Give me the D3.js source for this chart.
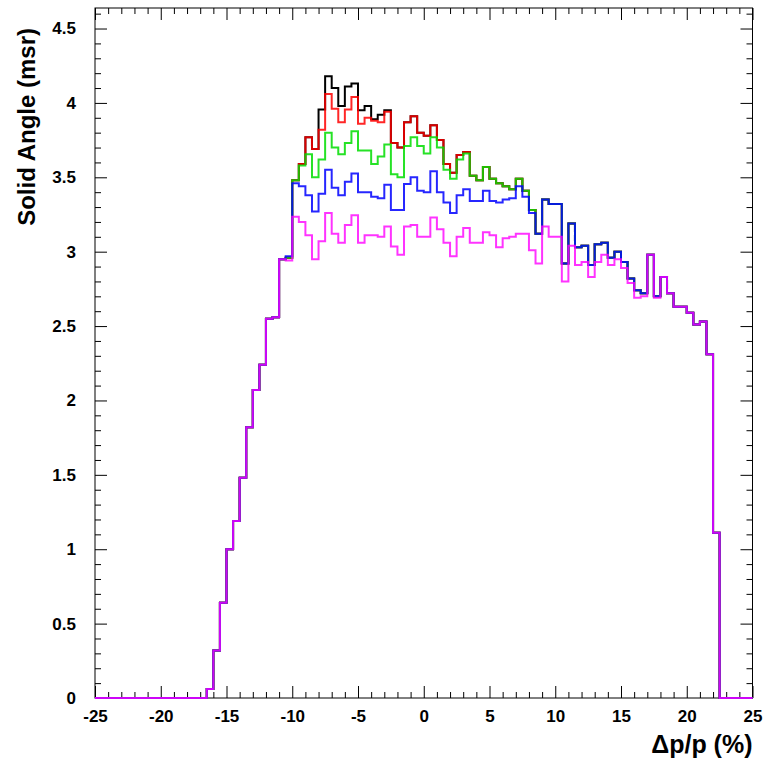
<!DOCTYPE html>
<html><head><meta charset="utf-8">
<script src="https://cdn.jsdelivr.net/npm/d3@7"></script>
<style>body{margin:0;background:#fff}</style>
</head><body><svg id="c" width="764" height="762"></svg>
<script>
// Histogram bins: 100 bins of width 0.5 from -25 to 25
const binStart = -25, binWidth = 0.5;
const seriesBlack = [0,0,0,0,0,0,0,0,0,0,0,0,0,0,0,0,0,
 0.06,0.32,0.64,1.00,1.19,1.48,1.82,2.07,2.24,2.55,2.56,2.95,2.96,
 3.48,3.59,3.77,3.69,3.955,4.18,4.10,3.98,4.11,4.13,3.95,3.98,3.89,3.92,3.95,3.73,3.70,3.87,3.91,3.80,
 3.78,3.85,3.75,3.59,3.53,3.65,3.67,3.51,3.48,3.57,3.49,3.46,3.44,3.42,3.49,3.41,3.28,
 3.12,3.35,3.32,3.32,2.92,3.19,3.03,3.04,2.91,3.05,3.06,2.96,3.00,2.93,2.82,2.74,2.72,2.98,2.70,2.83,2.72,2.63,2.63,2.59,2.51,2.53,2.31,1.11,
 0,0,0,0,0];
const seriesRed = [0,0,0,0,0,0,0,0,0,0,0,0,0,0,0,0,0,
 0.06,0.32,0.64,1.00,1.19,1.48,1.82,2.07,2.24,2.55,2.56,2.95,2.96,
 3.48,3.59,3.77,3.69,3.82,4.06,3.96,3.87,3.955,4.04,3.86,3.90,3.88,3.87,3.94,3.73,3.70,3.87,3.91,3.80,
 3.78,3.85,3.75,3.59,3.53,3.65,3.67,3.51,3.48,3.57,3.49,3.46,3.44,3.42,3.49,3.41,3.28,
 3.12,3.35,3.32,3.32,2.92,3.19,3.03,3.04,2.91,3.05,3.06,2.96,3.00,2.93,2.82,2.74,2.72,2.98,2.70,2.83,2.72,2.63,2.63,2.59,2.51,2.53,2.31,1.11,
 0,0,0,0,0];
const seriesGreen = [0,0,0,0,0,0,0,0,0,0,0,0,0,0,0,0,0,
 0.06,0.32,0.64,1.00,1.19,1.48,1.82,2.07,2.24,2.55,2.56,2.95,2.96,
 3.48,3.58,3.655,3.50,3.62,3.80,3.70,3.655,3.73,3.81,3.68,3.68,3.59,3.64,3.72,3.52,3.50,3.71,3.77,3.71,
 3.66,3.77,3.70,3.55,3.49,3.62,3.66,3.51,3.48,3.57,3.49,3.46,3.44,3.42,3.49,3.41,3.28,
 3.12,3.35,3.32,3.32,2.92,3.19,3.03,3.04,2.91,3.05,3.06,2.96,3.00,2.93,2.82,2.74,2.72,2.98,2.70,2.83,2.72,2.63,2.63,2.59,2.51,2.53,2.31,1.11,
 0,0,0,0,0];
const seriesBlue = [0,0,0,0,0,0,0,0,0,0,0,0,0,0,0,0,0,
 0.06,0.32,0.64,1.00,1.19,1.48,1.82,2.07,2.24,2.55,2.56,2.95,2.97,
 3.46,3.44,3.38,3.27,3.39,3.55,3.43,3.38,3.47,3.525,3.40,3.40,3.37,3.36,3.45,3.28,3.28,3.455,3.50,3.41,
 3.40,3.54,3.40,3.33,3.26,3.38,3.42,3.34,3.34,3.41,3.34,3.33,3.35,3.36,3.44,3.37,3.26,
 3.12,3.35,3.32,3.32,2.92,3.19,3.03,3.04,2.91,3.05,3.06,2.96,3.00,2.93,2.82,2.74,2.72,2.98,2.70,2.83,2.72,2.63,2.63,2.59,2.51,2.53,2.31,1.11,
 0,0,0,0,0];
const seriesMagenta = [0,0,0,0,0,0,0,0,0,0,0,0,0,0,0,0,0,
 0.06,0.32,0.64,1.00,1.19,1.48,1.82,2.07,2.24,2.55,2.56,2.95,2.94,
 3.235,3.20,3.11,2.95,3.07,3.26,3.12,3.06,3.18,3.245,3.06,3.11,3.11,3.10,3.17,3.035,2.98,3.17,3.18,3.10,
 3.10,3.23,3.15,3.06,2.97,3.10,3.16,3.06,3.06,3.13,3.11,3.03,3.09,3.10,3.12,3.12,3.01,
 2.92,3.17,3.10,3.10,2.80,3.04,2.91,2.93,2.83,2.93,2.98,2.91,2.95,2.89,2.79,2.69,2.70,2.98,2.69,2.83,2.72,2.63,2.63,2.59,2.51,2.53,2.31,1.11,
 0,0,0,0,0];
const seriesColors = ["#000000","#ff0000","#00dd00","#0000ff","#ff00ff"];
const seriesOpacity = [1, 0.85, 0.85, 0.85, 0.8];
const xMajor = [-25,-20,-15,-10,-5,0,5,10,15,20,25];
const xLabels = ["-25","-20","-15","-10","-5","0","5","10","15","20","25"];
const yMajor = [0,0.5,1,1.5,2,2.5,3,3.5,4,4.5];
const yLabels = ["0","0.5","1","1.5","2","2.5","3","3.5","4","4.5"];
const xTitle = "\u0394p/p (%)";
const yTitle = "Solid Angle (msr)";

const allSeries = [seriesBlack, seriesRed, seriesGreen, seriesBlue, seriesMagenta];

const L = 95, R = 752.5, T = 8, B = 698;
const x = d3.scaleLinear().domain([-25, 25]).range([L, R]);
const y = d3.scaleLinear().domain([0, 4.638]).range([B, T]);

const svg = d3.select("#c");
const font = "'Liberation Sans', Arial, Helvetica, sans-serif";

// minor ticks
const xMinor = d3.range(-25, 25.001, 1).filter(v => Math.abs(v % 5) > 1e-6);
const yMinor = d3.range(0, 4.6001, 0.1).map(v => +v.toFixed(1)).filter(v => Math.abs((v * 2) - Math.round(v * 2)) > 1e-6);

function styleAxis(g) {
  g.select(".domain").remove();
  g.selectAll(".tick line").attr("stroke", "#000").attr("stroke-width", 1);
  g.selectAll(".tick text").attr("font-family", font).attr("font-weight", "bold").attr("font-size", 17).attr("fill", "#000");
}

// bottom
svg.append("g").attr("transform", `translate(0,${B})`)
  .call(d3.axisBottom(x).tickValues(xMajor).tickSize(-12).tickPadding(12).tickFormat((d, i) => xLabels[i]))
  .call(styleAxis);
svg.append("g").attr("transform", `translate(0,${B})`)
  .call(d3.axisBottom(x).tickValues(xMinor).tickSize(-6).tickFormat(""))
  .call(styleAxis);
// top
svg.append("g").attr("transform", `translate(0,${T})`)
  .call(d3.axisTop(x).tickValues(xMajor).tickSize(-12).tickFormat(""))
  .call(styleAxis);
svg.append("g").attr("transform", `translate(0,${T})`)
  .call(d3.axisTop(x).tickValues(xMinor).tickSize(-6).tickFormat(""))
  .call(styleAxis);
// left
svg.append("g").attr("transform", `translate(${L},0)`)
  .call(d3.axisLeft(y).tickValues(yMajor).tickSize(-12).tickPadding(19).tickFormat((d, i) => yLabels[i]))
  .call(styleAxis);
svg.append("g").attr("transform", `translate(${L},0)`)
  .call(d3.axisLeft(y).tickValues(yMinor).tickSize(-6).tickFormat(""))
  .call(styleAxis);
// right
svg.append("g").attr("transform", `translate(${R},0)`)
  .call(d3.axisRight(y).tickValues(yMajor).tickSize(-12).tickFormat(""))
  .call(styleAxis);
svg.append("g").attr("transform", `translate(${R},0)`)
  .call(d3.axisRight(y).tickValues(yMinor).tickSize(-6).tickFormat(""))
  .call(styleAxis);

// frame
svg.append("rect").attr("x", L).attr("y", T).attr("width", R - L).attr("height", B - T)
  .attr("fill", "none").attr("stroke", "#000").attr("stroke-width", 1);

// histograms (step outlines)
const line = d3.line().x(d => x(d[0])).y(d => y(d[1]));
allSeries.forEach((vals, k) => {
  const pts = [];
  vals.forEach((v, i) => {
    const lo = binStart + i * binWidth, hi = lo + binWidth;
    pts.push([lo, v], [hi, v]);
  });
  svg.append("path").datum(pts).attr("d", line)
    .attr("fill", "none").attr("stroke", seriesColors[k])
    .attr("stroke-width", 2).attr("stroke-opacity", seriesOpacity[k])
    .attr("stroke-linejoin", "miter");
});

// titles
svg.append("text").attr("x", R).attr("y", 753).attr("text-anchor", "end")
  .attr("font-family", font).attr("font-weight", "bold").attr("font-size", 25).text(xTitle);
svg.append("text").attr("transform", `translate(35,28) rotate(-90)`).attr("text-anchor", "end")
  .attr("font-family", font).attr("font-weight", "bold").attr("font-size", 24).text(yTitle);
</script></body></html>
